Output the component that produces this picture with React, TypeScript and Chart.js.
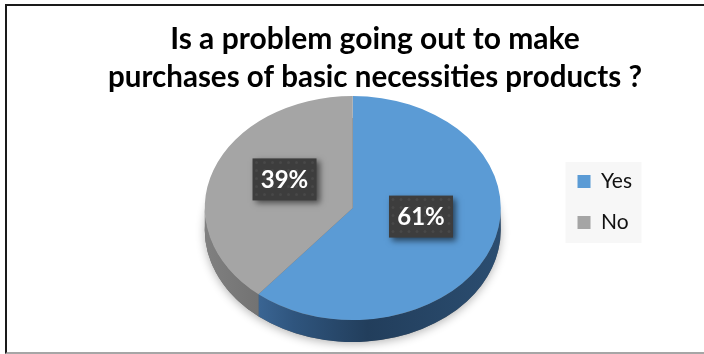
import React, { useEffect, useRef } from "react";
import { Chart, registerables } from "chart.js";

Chart.register(...registerables);

// ---- data ----
const categories: string[] = ["Yes", "No"];
const values: number[] = [61, 39];
const percentLabels: string[] = ["61%", "39%"];
const titleLines: string[] = [
  "Is a problem going out to make",
  "purchases of basic necessities products ?",
];

// ---- styles ----
const TOP_COLORS = ["#5b9bd5", "#a5a5a5"];
const SIDE_STOPS: [number, string][][] = [
  [
    [0, "#4b7db3"],
    [0.3, "#2f557e"],
    [0.55, "#223e5c"],
    [1, "#2b4d70"],
  ],
  [
    [0, "#808080"],
    [0.3, "#6a6a6a"],
    [1, "#5c5c5c"],
  ],
];
const TILT = 112 / 148;
const DEPTH = 22;
const SHIFT_X = 20;
const SHIFT_Y = 6;
const LABEL_LIFT = 10;
const LEGEND_PAD = 20;
const FONT = "Lato, 'Open Sans', sans-serif";

const pie3d = {
  id: "pie3d",
  beforeDraw(chart: any) {
    const lg = chart.legend;
    if (!lg) return;
    const ctx = chart.ctx;
    const midY = (lg.top + lg.bottom) / 2;
    const left = lg.left + LEGEND_PAD - 12;
    ctx.save();
    ctx.fillStyle = "#f7f7f7";
    ctx.fillRect(left, midY - 40, 76, 81);
    ctx.restore();
  },
  beforeDatasetsDraw(chart: any) {
    const ctx = chart.ctx;
    const meta = chart.getDatasetMeta(0);
    const arcs = meta.data;
    ctx.save();
    if (!arcs.length) return;
    const cx = arcs[0].x;
    const cy = arcs[0].y;
    const R = arcs[0].outerRadius;
    ctx.translate(cx + SHIFT_X, cy + SHIFT_Y);
    ctx.scale(1, TILT);
    ctx.translate(-cx, -cy);
    const d = DEPTH / TILT;

    // soft shadow under the pie
    ctx.save();
    ctx.shadowColor = "rgba(0,0,0,0.3)";
    ctx.shadowBlur = 10;
    ctx.shadowOffsetY = 2;
    ctx.beginPath();
    ctx.arc(cx, cy + d, R, 0, Math.PI * 2);
    ctx.fillStyle = "#666";
    ctx.fill();
    ctx.restore();

    // side walls
    arcs.forEach((arc: any, i: number) => {
      const s = arc.startAngle;
      const e = arc.endAngle;
      const g = ctx.createLinearGradient(cx - R, 0, cx + R, 0);
      SIDE_STOPS[i % SIDE_STOPS.length].forEach(([o, c]) => g.addColorStop(o, c));
      for (const k of [-2 * Math.PI, 0, 2 * Math.PI]) {
        const a = Math.max(s, k);
        const b = Math.min(e, k + Math.PI);
        if (b > a) {
          ctx.beginPath();
          ctx.arc(cx, cy, R, a, b);
          ctx.arc(cx, cy + d, R, b, a, true);
          ctx.closePath();
          ctx.fillStyle = g;
          ctx.fill();
        }
      }
    });
  },
  afterDatasetsDraw(chart: any) {
    const ctx = chart.ctx;
    ctx.restore();
    const meta = chart.getDatasetMeta(0);
    const arcs = meta.data;
    arcs.forEach((arc: any, i: number) => {
      const mid = (arc.startAngle + arc.endAngle) / 2;
      const f = 0.49;
      const px = arc.x + SHIFT_X + f * arc.outerRadius * Math.cos(mid);
      const py = arc.y + SHIFT_Y - LABEL_LIFT + f * arc.outerRadius * TILT * Math.sin(mid);
      const w = 64;
      const h = 42;
      const x0 = px - w / 2;
      const y0 = py - h / 2;
      ctx.save();
      ctx.shadowColor = "rgba(0,0,0,0.55)";
      ctx.shadowBlur = 6;
      ctx.shadowOffsetX = 3;
      ctx.shadowOffsetY = 3;
      ctx.fillStyle = "#3d3d3d";
      ctx.fillRect(x0, y0, w, h);
      ctx.restore();
      // subtle dotted texture
      ctx.save();
      ctx.fillStyle = "rgba(255,255,255,0.06)";
      for (let yy = y0 + 4; yy < y0 + h; yy += 8) {
        for (let xx = x0 + 4; xx < x0 + w; xx += 8) {
          ctx.beginPath();
          ctx.arc(xx, yy, 1.5, 0, Math.PI * 2);
          ctx.fill();
        }
      }
      ctx.restore();
      ctx.save();
      ctx.fillStyle = "#ffffff";
      ctx.font = `bold 24px ${FONT}`;
      ctx.textAlign = "center";
      ctx.textBaseline = "middle";
      ctx.fillText(percentLabels[i], px, py + 1);
      ctx.restore();
    });
  },
};

export default function App() {
  const ref = useRef<HTMLCanvasElement | null>(null);

  useEffect(() => {
    if (!ref.current) return;
    const chart = new Chart(ref.current, {
      type: "pie",
      data: {
        labels: categories,
        datasets: [
          {
            data: values,
            backgroundColor: TOP_COLORS,
            borderWidth: 0,
            radius: 148,
            clip: false,
          } as any,
        ],
      },
      options: {
        responsive: false,
        animation: false,
        layout: { padding: { left: 108, right: 108, top: 0, bottom: 50 } },
        plugins: {
          title: {
            display: true,
            text: titleLines,
            color: "#000",
            font: { family: FONT, weight: "bold", size: 30, lineHeight: "38px" } as any,
            padding: { top: 20, bottom: 4 },
          },
          legend: {
            display: true,
            position: "right",
            fullSize: false,
            labels: {
              boxWidth: 13,
              boxHeight: 13,
              padding: LEGEND_PAD,
              color: "#111",
              font: { family: FONT, size: 21 },
            },
          },
          tooltip: { enabled: false },
        },
      },
      plugins: [pie3d as any],
    });
    return () => chart.destroy();
  }, []);

  return (
    <div
      style={{
        position: "fixed",
        left: 0,
        top: 0,
        width: 704,
        height: 354,
        overflow: "hidden",
        background: "#fff",
      }}
    >
      <canvas ref={ref} width={750} height={354} style={{ display: "block" }} />
      <div
        style={{
          position: "absolute",
          left: 5,
          top: 4,
          width: 800,
          height: 350,
          boxSizing: "border-box",
          borderLeft: "2px solid #1a1a1a",
          borderTop: "2px solid #1a1a1a",
          borderBottom: "2px solid #a6a6a6",
          pointerEvents: "none",
        }}
      />
    </div>
  );
}
